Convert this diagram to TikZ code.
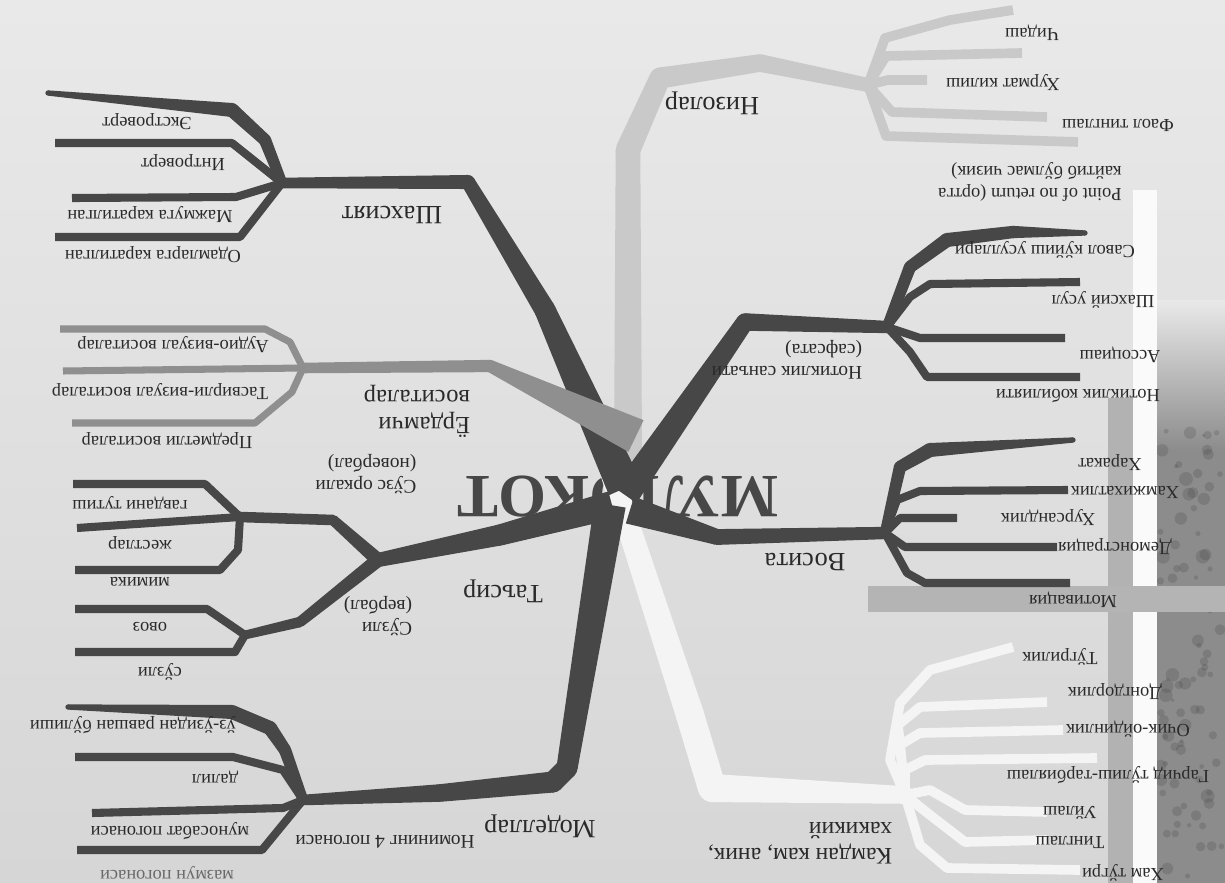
\documentclass[tikz,border=0pt]{standalone}
\usepackage{fontspec}
\setmainfont{Liberation Serif}
\usetikzlibrary{calc}

\definecolor{paperhi}{HTML}{E9E9E9}
\definecolor{paperlo}{HTML}{D6D6D6}
\definecolor{darkbr}{HTML}{474747}
\definecolor{midbr}{HTML}{8F8F8F}
\definecolor{lightbr}{HTML}{C9C9C9}
\definecolor{whitebr}{HTML}{F4F4F4}
\definecolor{inkcol}{HTML}{2A2A2A}
\definecolor{stripcol}{HTML}{8C8C8C}
\definecolor{bandcol}{HTML}{B4B4B4}

% one tapered piece of a branch: colour, from, half width, to, half width
\newcommand{\taper}[5]{%
  \fill[#1] ($(#2)!#3!90:(#4)$) -- ($(#4)!#5!-90:(#2)$) -- ($(#4)!#5!90:(#2)$) -- ($(#2)!#3!-90:(#4)$) -- cycle;
  \fill[#1] (#4) circle (#5);}

\begin{document}
\begin{tikzpicture}[x=0.02cm,y=-0.02cm,
    leaf/.style={line width=4.6pt,line join=round},
    leafd/.style={leaf,draw=darkbr},
    leafm/.style={leaf,draw=midbr,line width=4pt},
    leafl/.style={leaf,draw=lightbr,line width=5.5pt},
    leafw/.style={leaf,draw=whitebr,line width=5.5pt},
    lbl/.style={rotate=180,text=inkcol,inner sep=1pt,font=\fontsize{10.5}{12}\selectfont},
    sublbl/.style={lbl,align=left,font=\fontsize{11}{12.5}\selectfont},
    brlbl/.style={lbl,align=left,font=\fontsize{15}{17}\selectfont},
    titlelbl/.style={rotate=180,text=darkbr,inner sep=0pt,
                     font=\fontsize{35}{38}\selectfont\bfseries}]

  % paper and the photo strip on the right
  \useasboundingbox (0,0) rectangle (1225,883);
  \shade[top color=paperhi,bottom color=paperlo] (0,0) rectangle (1225,883);
  \shade[top color=paperhi,bottom color=stripcol] (1157,300) rectangle (1225,450);
  \fill[stripcol] (1157,450) rectangle (1225,883);
  \pgfmathsetseed{11}
  \foreach \i in {1,...,90}
    \fill[gray!40!black,opacity=0.18] ({1160+62*rnd},{430+450*rnd}) circle ({(1+3*rnd)*1pt});
  \fill[gray!60] (1108,398) rectangle (1133,883);
  \fill[white!96!gray] (1133,190) rectangle (1157,883);
  \fill[bandcol] (868,586) rectangle (1225,612);

  \node[titlelbl] (title) at (618,497) {МУЛОКОТ};

  % Низолар
  \coordinate (ni0) at (628,460);
  \coordinate (ni1) at (628,150);
  \coordinate (ni2) at (660,78);
  \coordinate (ni3) at (760,63);
  \coordinate (niF) at (868,85);
  \taper{lightbr}{ni0}{8pt}{ni1}{7pt}
  \taper{lightbr}{ni1}{7pt}{ni2}{6pt}
  \taper{lightbr}{ni2}{6pt}{ni3}{5pt}
  \taper{lightbr}{ni3}{5pt}{niF}{4pt}
  \draw[leafl] (niF) -- (885,38) -- (950,20) -- (1013,10);
  \draw[leafl] (niF) -- (886,56) -- (1022,53);
  \draw[leafl] (niF) -- (888,80) -- (927,80);
  \draw[leafl] (niF) -- (892,112) -- (1047,117);
  \draw[leafl] (niF) -- (886,136) -- (1078,142);

  % Камдан кам, аник, хакикий
  \coordinate (ka0) at (603,448);
  \coordinate (ka1) at (690,715);
  \coordinate (ka2) at (712,788);
  \coordinate (kaF) at (905,795);
  \taper{whitebr}{ka0}{6pt}{ka1}{8pt}
  \taper{whitebr}{ka1}{8pt}{ka2}{8pt}
  \taper{whitebr}{ka2}{8pt}{kaF}{5pt}
  \draw[leafw] (kaF) -- (890,760) -- (900,703) -- (930,670) -- (1013,647);
  \draw[leafw] (kaF) -- (898,725) -- (920,707) -- (1047,702);
  \draw[leafw] (kaF) -- (900,745) -- (920,733) -- (1063,730);
  \draw[leafw] (kaF) -- (905,770) -- (925,760) -- (1097,758);
  \draw[leafw] (kaF) -- (930,790) -- (965,810) -- (1047,812);
  \draw[leafw] (kaF) -- (930,815) -- (965,842) -- (1047,840);
  \draw[leafw] (kaF) -- (920,845) -- (947,868) -- (1080,870);

  % Шахсият
  \coordinate (sh0) at (625,488);
  \coordinate (sh1) at (545,310);
  \coordinate (sh2) at (468,182);
  \coordinate (shF) at (282,183);
  \taper{darkbr}{sh0}{10pt}{sh1}{6pt}
  \taper{darkbr}{sh1}{6pt}{sh2}{4pt}
  \taper{darkbr}{sh2}{4pt}{shF}{3pt}
  \coordinate (ex1) at (265,140);
  \coordinate (ex2) at (232,110);
  \coordinate (ex3) at (48,93);
  \taper{darkbr}{shF}{3pt}{ex1}{3.5pt}
  \taper{darkbr}{ex1}{3.5pt}{ex2}{4pt}
  \taper{darkbr}{ex2}{4pt}{ex3}{1.5pt}
  \draw[leafd] (shF) -- (232,143) -- (55,143);
  \draw[leafd] (shF) -- (236,197) -- (72,198);
  \draw[leafd] (shF) -- (240,237) -- (55,237);

  % Таъсир
  \coordinate (ta0) at (612,505);
  \coordinate (ta1) at (500,535);
  \coordinate (taF) at (378,560);
  \taper{darkbr}{ta0}{8pt}{ta1}{6pt}
  \taper{darkbr}{ta1}{6pt}{taF}{4pt}
  \coordinate (nv1) at (333,520);
  \coordinate (nvF) at (240,517);
  \taper{darkbr}{taF}{4pt}{nv1}{3pt}
  \taper{darkbr}{nv1}{3pt}{nvF}{3pt}
  \draw[leafd] (nvF) -- (205,484) -- (73,484);
  \draw[leafd] (nvF) -- (77,528);
  \draw[leafd] (nvF) -- (238,550) -- (220,570) -- (75,570);
  \coordinate (vb1) at (300,622);
  \coordinate (vbF) at (245,635);
  \taper{darkbr}{taF}{4pt}{vb1}{3pt}
  \taper{darkbr}{vb1}{3pt}{vbF}{2.5pt}
  \draw[leafd] (vbF) -- (207,609) -- (75,609);
  \draw[leafd] (vbF) -- (235,652) -- (75,652);

  % Моделлар
  \coordinate (mo0) at (610,505);
  \coordinate (mo1) at (567,768);
  \coordinate (mo2) at (553,782);
  \coordinate (mo3) at (440,793);
  \coordinate (moF) at (303,800);
  \taper{darkbr}{mo0}{9pt}{mo1}{6pt}
  \taper{darkbr}{mo1}{6pt}{mo2}{6pt}
  \taper{darkbr}{mo2}{6pt}{mo3}{5pt}
  \taper{darkbr}{mo3}{5pt}{moF}{3pt}
  \coordinate (uz1) at (285,750);
  \coordinate (uz2) at (270,728);
  \coordinate (uz3) at (232,712);
  \coordinate (uz4) at (68,707);
  \taper{darkbr}{moF}{3pt}{uz1}{3.5pt}
  \taper{darkbr}{uz1}{3.5pt}{uz2}{4pt}
  \taper{darkbr}{uz2}{4pt}{uz3}{4pt}
  \taper{darkbr}{uz3}{4pt}{uz4}{1.5pt}
  \draw[leafd] (moF) -- (283,770) -- (233,757) -- (75,757);
  \draw[leafd] (moF) -- (283,808) -- (92,813);
  \draw[leafd] (moF) -- (262,850) -- (77,850);

  % Ёрдамчи воситалар
  \coordinate (yo0) at (636,436);
  \coordinate (yo1) at (490,366);
  \coordinate (yoF) at (303,368);
  \taper{midbr}{yo0}{10pt}{yo1}{3.5pt}
  \taper{midbr}{yo1}{3.5pt}{yoF}{3pt}
  \draw[leafm] (yoF) -- (290,342) -- (265,329) -- (60,329);
  \draw[leafm] (yoF) -- (63,371);
  \draw[leafm] (yoF) -- (292,392) -- (255,423) -- (72,423);

  % Нотиклик санъати
  \coordinate (no0) at (625,495);
  \coordinate (no1) at (745,322);
  \coordinate (noF) at (887,327);
  \taper{darkbr}{no0}{8pt}{no1}{5pt}
  \taper{darkbr}{no1}{5pt}{noF}{3.5pt}
  \coordinate (sa1) at (910,267);
  \coordinate (sa2) at (947,240);
  \coordinate (sa3) at (1013,232);
  \coordinate (sa4) at (1085,233);
  \taper{darkbr}{noF}{3pt}{sa1}{3.5pt}
  \taper{darkbr}{sa1}{3.5pt}{sa2}{4pt}
  \taper{darkbr}{sa2}{4pt}{sa3}{3.5pt}
  \taper{darkbr}{sa3}{3.5pt}{sa4}{1.5pt}
  \draw[leafd] (noF) -- (910,297) -- (930,284) -- (1080,282);
  \draw[leafd] (noF) -- (920,338) -- (1065,338);
  \draw[leafd] (noF) -- (910,352) -- (927,377) -- (1080,377);

  % Восита
  \coordinate (vo0) at (630,510);
  \coordinate (vo1) at (717,537);
  \coordinate (voF) at (885,533);
  \taper{darkbr}{vo0}{8pt}{vo1}{4.5pt}
  \taper{darkbr}{vo1}{4.5pt}{voF}{3.5pt}
  \coordinate (xa1) at (900,467);
  \coordinate (xa2) at (930,450);
  \coordinate (xa3) at (1073,440);
  \taper{darkbr}{voF}{3pt}{xa1}{3.5pt}
  \taper{darkbr}{xa1}{3.5pt}{xa2}{4pt}
  \taper{darkbr}{xa2}{4pt}{xa3}{1.5pt}
  \draw[leafd] (voF) -- (897,500) -- (920,491) -- (1068,490);
  \draw[leafd] (voF) -- (900,518) -- (957,518);
  \draw[leafd] (voF) -- (905,547) -- (1057,547);
  \draw[leafd] (voF) -- (907,573) -- (925,583) -- (1070,583);

  % labels, left half
  \node[brlbl] (l-sh) at (392,215) {Шахсият};
  \node[lbl] (l-ex) at (147,122) {Экстроверт};
  \node[lbl] (l-in) at (183,163) {Интроверт};
  \node[lbl] (l-mj) at (150,215) {Мажмуга каратилган};
  \node[lbl] (l-od) at (153,255) {Одамларга каратилган};
  \node[sublbl,font=\fontsize{14}{15.5}\selectfont] (l-yo) at (417,411) {Ёрдамчи\\воситалар};
  \node[lbl] (l-au) at (173,345) {Аудио-визуал воситалар};
  \node[lbl] (l-tv) at (160,392) {Тасвирли-визуал воситалар};
  \node[lbl] (l-pr) at (167,441) {Предметли воситалар};
  \node[sublbl] (l-nv) at (366,474) {Сўзс оркали\\(новербал)};
  \node[lbl] (l-ga) at (130,503) {гавдани тутиш};
  \node[lbl] (l-je) at (140,543) {жестлар};
  \node[lbl] (l-mi) at (140,582) {мимика};
  \node[brlbl] (l-ta) at (503,591) {Таъсир};
  \node[sublbl] (l-vb) at (378,616) {Сўзли\\(вербал)};
  \node[lbl] (l-ov) at (150,627) {овоз};
  \node[lbl] (l-sz) at (160,672) {сўзли};
  \node[brlbl] (l-mo) at (540,826) {Моделлар};
  \node[sublbl] (l-nm) at (385,842) {Номининг 4 погонаси};
  \node[lbl] (l-uz) at (133,725) {ўз-ўзидан равшан бўлиши};
  \node[lbl] (l-da) at (215,777) {далил};
  \node[lbl] (l-mu) at (170,831) {муносабат погонаси};
  \node[lbl,text=inkcol!70] (l-ma) at (167,873) {мазмун погонаси};

  % labels, right half
  \node[brlbl] (l-ni) at (712,103) {Низолар};
  \node[lbl] (l-ch) at (1032,33) {Чидаш};
  \node[lbl] (l-hu) at (1003,83) {Хурмат килиш};
  \node[lbl] (l-fa) at (1118,125) {Фаол тинглаш};
  \node[lbl,align=left] (l-po) at (1030,182) {Point of no return (ортга\\кайтиб бўлмас чизик)};
  \node[sublbl] (l-no) at (787,360) {Нотиклик санъати\\(сафсата)};
  \node[lbl] (l-sv) at (1045,250) {Савол кўйиш усуллари};
  \node[lbl] (l-su) at (1103,300) {Шахсий усул};
  \node[lbl] (l-as) at (1120,355) {Ассоциаш};
  \node[lbl] (l-nk) at (1078,396) {Нотиклик кобилияти};
  \node[brlbl] (l-vo) at (805,562) {Восита};
  \node[lbl] (l-xa) at (1110,463) {Харакат};
  \node[lbl] (l-hj) at (1125,492) {Хамжихатлик};
  \node[lbl] (l-xs) at (1048,518) {Хурсандлик};
  \node[lbl] (l-de) at (1115,547) {Демонстрация};
  \node[lbl] (l-mt) at (1073,600) {Мотивация};
  \node[brlbl,font=\fontsize{13.5}{15}\selectfont] (l-ka) at (800,843) {Камдан кам, аник,\\хакикий};
  \node[lbl] (l-tu) at (1060,657) {Тўгрилик};
  \node[lbl] (l-dn) at (1115,692) {Донгдорлик};
  \node[lbl] (l-oc) at (1128,729) {Очик-ойдинлик};
  \node[lbl] (l-gt) at (1108,775) {Гарчид тўлиш-тарбиялаш};
  \node[lbl] (l-uy) at (1070,813) {Уйлаш};
  \node[lbl] (l-ti) at (1070,842) {Тинглаш};
  \node[lbl] (l-ht) at (1123,873) {Хам тўгри};
\end{tikzpicture}
\end{document}
